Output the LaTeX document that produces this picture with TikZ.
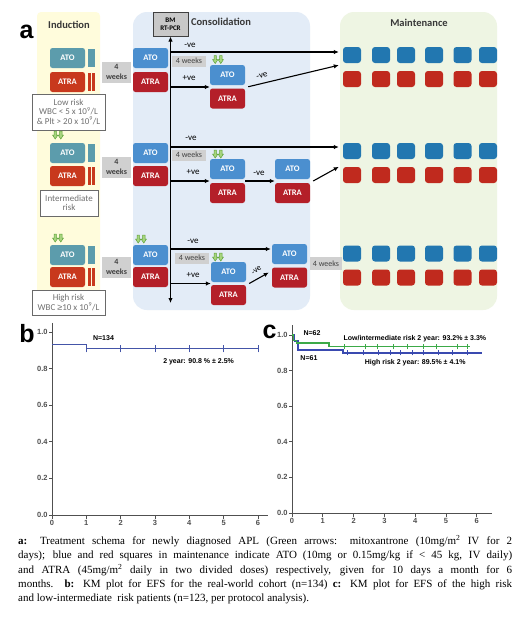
\documentclass[tikz,border=0pt]{standalone}
\usepackage{fontspec}
\setmainfont{Liberation Serif}
\newfontfamily\calibri{Carlito}
\newfontfamily\arialf{Liberation Sans}
\usetikzlibrary{arrows.meta,calc}

\definecolor{indyellow}{HTML}{FFFCDC}
\definecolor{conblue}{HTML}{E3ECF7}
\definecolor{mntgreen}{HTML}{EEF5E3}
\definecolor{indATO}{HTML}{5C9CAC}
\definecolor{indATRA}{HTML}{C8391D}
\definecolor{conATO}{HTML}{4B8FCF}
\definecolor{conATRA}{HTML}{B41F29}
\definecolor{mntATO}{HTML}{2277B0}
\definecolor{mntATRA}{HTML}{C02A1E}
\definecolor{weekgray}{HTML}{D0D0D0}
\definecolor{weektext}{HTML}{404040}
\definecolor{riskline}{HTML}{6A6A6A}
\definecolor{risktext}{HTML}{707070}
\definecolor{bmfill}{HTML}{C8C8C8}
\definecolor{bmline}{HTML}{404040}
\definecolor{phasetext}{HTML}{383838}
\definecolor{mitoxfill}{HTML}{A8D57E}
\definecolor{mitoxline}{HTML}{5FA33A}
\definecolor{axisgray}{HTML}{505050}
\definecolor{kmb}{HTML}{4455A8}
\definecolor{kmgreen}{HTML}{3CAA48}
\definecolor{kmblue}{HTML}{3A4AB0}

\tikzset{
  drug/.style={rounded corners=2.5pt, minimum width=35pt, minimum height=20pt, inner sep=0pt,
    text=white, font=\calibri\bfseries\fontsize{8.5}{9}\selectfont},
  iato/.style={drug, fill=indATO},
  iatra/.style={drug, fill=indATRA},
  cato/.style={drug, fill=conATO},
  catra/.style={drug, fill=conATRA},
  msq/.style={rounded corners=3pt, minimum width=18pt, minimum height=16pt, inner sep=0pt},
  mato/.style={msq, fill=mntATO},
  matra/.style={msq, fill=mntATRA},
  phase/.style={font=\calibri\bfseries\fontsize{10.5}{12}\selectfont, text=phasetext, inner sep=0pt},
  wkbig/.style={fill=weekgray, minimum width=29pt, minimum height=21pt, inner sep=0pt, align=center,
    text=weektext, font=\calibri\bfseries\fontsize{8}{10}\selectfont},
  wk/.style={fill=weekgray, minimum width=34pt, minimum height=11pt, inner sep=0pt,
    text=weektext, font=\calibri\fontsize{8}{8}\selectfont},
  risk/.style={draw=riskline, line width=0.8pt, fill=white, inner sep=0pt, align=center,
    text=risktext, font=\calibri\fontsize{9}{9.8}\selectfont},
  bmbox/.style={draw=bmline, line width=1pt, fill=bmfill, minimum width=35pt, minimum height=24pt,
    inner sep=0pt, align=center, font=\calibri\bfseries\fontsize{7}{8.5}\selectfont},
  sig/.style={font=\calibri\fontsize{9}{9}\selectfont, inner sep=0pt},
  flow/.style={-{Latex[length=5pt,width=4.5pt]}, line width=1.1pt},
  trunk/.style={{Latex[length=5pt,width=4.5pt]}-{Latex[length=5pt,width=4.5pt]}, line width=1.2pt},
  letter/.style={font=\arialf\bfseries\fontsize{25}{25}\selectfont, inner sep=0pt},
  axis/.style={draw=axisgray, line width=0.8pt},
  ticklab/.style={font=\arialf\bfseries\fontsize{7.5}{7.5}\selectfont, text=axisgray, inner sep=1pt},
  kmlab/.style={font=\arialf\bfseries\fontsize{7}{7}\selectfont, inner sep=0pt},
  caption/.style={anchor=north west, text width=494pt, align=justify, inner sep=0pt,
    font=\fontsize{11}{14.4}\selectfont},
  mitox/.pic={
    \foreach \dx in {-2.8,2.8}
      \filldraw[fill=mitoxfill, draw=mitoxline, line width=0.5pt, shift={(\dx,0)}]
        (-1.2,-4) -- (1.2,-4) -- (1.2,0) -- (2.7,0) -- (0,4) -- (-2.7,0) -- (-1.2,0) -- cycle;
  }
}

\begin{document}
\begin{tikzpicture}[x=1pt,y=-1pt]
\useasboundingbox (0,0) rectangle (520,630);
\fill[white] (0,0) rectangle (520,630);

% Phase backgrounds
\fill[indyellow, rounded corners=4pt] (37,12) rectangle (100,300);
\fill[conblue, rounded corners=14pt] (133,12) rectangle (310,310);
\fill[mntgreen, rounded corners=14pt] (340,12) rectangle (497,310);

\node[letter] (pa) at (26.5,31.5) {a};
\node[phase] (tind) at (69,25) {Induction};
\node[phase] (tcon) at (221,22) {Consolidation};
\node[phase] (tmnt) at (419,23) {Maintenance};

% Induction and first consolidation block
\foreach \r/\ya/\yb/\yw in {1/58/82/72, 2/153/176/167, 3/255/277/267} {
  \node[iato] (iato\r) at (67.5,\ya) {ATO};
  \node[iatra] (iatra\r) at (67.5,\yb) {ATRA};
  \fill[indATO] (87.5,\ya-9) rectangle (95,\ya+9);
  \fill[indATRA] (87.5,\yb-9) rectangle (90.5,\yb+9);
  \fill[indATRA] (92,\yb-9) rectangle (95,\yb+9);
  \node[wkbig] (wk\r) at (116.5,\yw) {4\\weeks};
  \node[cato] (cato\r) at (150.5,\ya) {ATO};
  \node[catra] (catra\r) at (150.5,\yb) {ATRA};
}

% Risk groups
\node[risk, minimum width=73pt, minimum height=36pt] (low) at (68.5,112)
  {Low risk\\WBC < 5 x 10\textsuperscript{9}/L\\\& Plt > 20 x 10\textsuperscript{9}/L};
\node[risk, minimum width=58pt, minimum height=26pt] (mid) at (69,203) {Intermediate\\risk};
\node[risk, minimum width=73pt, minimum height=25pt] (high) at (68.5,302.5)
  {High risk\\WBC {\arialf ≥}10 x 10\textsuperscript{9}/L};

% Mitoxantrone
\pic at (58,135) {mitox};
\pic at (58,238) {mitox};
\pic at (141,239) {mitox};
\pic at (218,59.5) {mitox};
\pic at (218,154) {mitox};
\pic at (218,257) {mitox};

% Consolidation after RT-PCR
\node[cato] (cato1b) at (227.5,75) {ATO};
\node[catra] (catra1b) at (227.5,98.5) {ATRA};
\node[cato] (cato2b) at (227.5,169) {ATO};
\node[catra] (catra2b) at (227.5,193) {ATRA};
\node[cato] (cato2c) at (292.5,169) {ATO};
\node[catra] (catra2c) at (292.5,193) {ATRA};
\node[cato] (cato3b) at (228.5,272) {ATO};
\node[catra] (catra3b) at (228.5,295) {ATRA};
\node[cato] (cato3c) at (289.5,254) {ATO};
\node[catra] (catra3c) at (289.5,277.5) {ATRA};

\node[wk] (wk1b) at (189,61) {4 weeks};
\node[wk] (wk2b) at (189,155) {4 weeks};
\node[wk] (wk3b) at (192,258) {4 weeks};
\node[wk, minimum width=32pt, minimum height=13pt] (wk3c) at (326,263.5) {4 weeks};

% Maintenance squares
\foreach \r/\yb/\yr in {1/55/79, 2/151/175, 3/253.5/277.5}
  \foreach \c/\x in {1/352, 2/381, 3/406, 4/434, 5/462.5, 6/488} {
    \node[mato] (m\r b\c) at (\x,\yb) {};
    \node[matra] (m\r r\c) at (\x,\yr) {};
  }

% BM RT-PCR trunk
\node[bmbox] (bm) at (170.5,24) {BM\\RT-PCR};
\coordinate (tbot) at (170.5,303);
\draw[trunk] (bm.south) -- (tbot);

% Row 1
\coordinate (b1n) at (170.5,52);
\coordinate (b1p) at (170.5,87);
\draw[flow, shorten >=4pt] (b1n) -- (b1n -| m1b1.west);
\draw[flow] (b1p) -- (b1p -| cato1b.west);
\draw[flow] ($(cato1b.south east)!.5!(catra1b.north east)+(3,0)$) -- ([xshift=-4pt,yshift=-2pt]m1b1.south west);
\node[sig] (s1n) at (190,45) {-ve};
\node[sig] (s1p) at (189,78) {+ve};
\node[sig, rotate=15] (s1d) at (262,76) {-ve};

% Row 2
\coordinate (b2n) at (170.5,147);
\coordinate (b2p) at (170.5,181);
\draw[flow, shorten >=4pt] (b2n) -- (b2n -| m2b1.west);
\draw[flow] (b2p) -- (b2p -| cato2b.west);
\draw[flow] ($(cato2b.south east)!.5!(catra2b.north east)$) -- ($(cato2c.south west)!.5!(catra2c.north west)$);
\draw[flow] ($(cato2c.south east)!.5!(catra2c.north east)+(3,0)$) -- ([xshift=-4pt]m2r1.north west);
\node[sig] (s2n) at (191,138) {-ve};
\node[sig] (s2p) at (193,172) {+ve};
\node[sig] (s2d) at (259,173) {-ve};

% Row 3
\coordinate (b3n) at (170.5,249);
\coordinate (b3p) at (170.5,283.5);
\draw[flow, shorten >=1pt] (b3n) -- (b3n -| cato3c.west);
\draw[flow] (b3p) -- (b3p -| cato3b.west);
\draw[flow] ($(cato3b.south east)!.5!(catra3b.north east)+(3,0)$) -- ([xshift=-3pt,yshift=5pt]catra3c.west);
\node[sig] (s3n) at (193,241) {-ve};
\node[sig] (s3p) at (193,275) {+ve};
\node[sig, rotate=40, font=\calibri\fontsize{8.5}{8.5}\selectfont] (s3d) at (256.5,270.5) {-ve};

% Panel b
\node[letter] (pb) at (27,334) {b};
\begin{scope}[shift={(52,515)}, x=34.33pt, y=183pt]
  \draw[axis] (0,1.05) -- (0,0) -- (6.3,0);
  \foreach \v/\l [count=\i] in {0/0.0, 0.2/0.2, 0.4/0.4, 0.6/0.6, 0.8/0.8, 1/1.0}
    \draw[axis] (0,\v) -- ++(-3pt,0) node[ticklab, left] (byl\i) {\l};
  \foreach \t in {0,...,6}
    \draw[axis] (\t,0) -- ++(0,-4pt) node[ticklab, below] (bxl\t) {\t};
  \draw[kmb, line width=1.1pt] (0,0.93) -- (1,0.93) -- (1,0.908) -- (6,0.908);
  \foreach \t in {1,...,6}
    \draw[kmb, line width=0.8pt] (\t,0.908) +(0,-3.5pt) -- +(0,3.5pt);
  \node[kmlab] (bn) at (1.5,0.967) {N=134};
  \node[kmlab] (b2y) at (4.27,0.836) {2 year: 90.8 \% ± 2.5\%};
\end{scope}

% Panel c
\node[letter] (pc) at (269.5,331.5) {c};
\begin{scope}[shift={(292,513)}, x=30.8pt, y=178pt]
  \draw[axis] (0,1.056) -- (0,0) -- (6.5,0);
  \foreach \v/\l [count=\i] in {0/0.0, 0.2/0.2, 0.4/0.4, 0.6/0.6, 0.8/0.8, 1/1.0}
    \draw[axis] (0,\v) -- ++(-3pt,0) node[ticklab, left] (cyl\i) {\l};
  \foreach \t in {0,...,6}
    \draw[axis] (\t,0) -- ++(0,-4pt) node[ticklab, below] (cxl\t) {\t};
  \draw[kmblue, line width=1.4pt] (0,1) -- (0.08,1) -- (0.08,0.967) -- (0.2,0.967) -- (0.2,0.916)
    -- (1.66,0.916) -- (1.66,0.899) -- (6.17,0.899);
  \draw[kmgreen, line width=1.4pt] (0,1) -- (0.05,1) -- (0.05,0.97) -- (0.15,0.97) -- (0.15,0.955)
    -- (1.2,0.955) -- (1.2,0.934) -- (5.78,0.934);
  \foreach \t in {1.8,2.3,2.8,3.2,3.5,3.9,4.25,4.75,5.2,5.7}
    \draw[kmblue, line width=0.6pt] (\t,0.899) +(0,-2.5pt) -- +(0,2.5pt);
  \foreach \t in {1.7,2.37,2.76,3.3,3.73,4.25,4.7,5.36,5.7}
    \draw[kmgreen, line width=0.6pt] (\t,0.934) +(0,-2.5pt) -- +(0,2.5pt);
  \node[kmlab] (cn62) at (0.65,1.011) {N=62};
  \node[kmlab] (cn61) at (0.55,0.871) {N=61};
  \node[kmlab] (clow) at (3.99,0.978) {Low/intermediate risk 2 year: 93.2\% ± 3.3\%};
  \node[kmlab] (chigh) at (4.0,0.843) {High risk 2 year: 89.5\% ± 4.1\%};
\end{scope}

% Caption
\node[caption] (cap) at (18,535) {\textbf{a:} Treatment schema for newly diagnosed APL (Green arrows: mitoxantrone (10mg/m\textsuperscript{2} IV for 2\linebreak
days); blue and red squares in maintenance indicate ATO (10mg or 0.15mg/kg if < 45 kg, IV daily)\linebreak
and ATRA (45mg/m\textsuperscript{2} daily in two divided doses) respectively, given for 10 days a month for 6\linebreak
months. \textbf{b:} KM plot for EFS for the real-world cohort (n=134) \textbf{c:} KM plot for EFS of the high risk\linebreak
and low-intermediate\ \ risk patients (n=123, per protocol analysis).};

\end{tikzpicture}
\end{document}
